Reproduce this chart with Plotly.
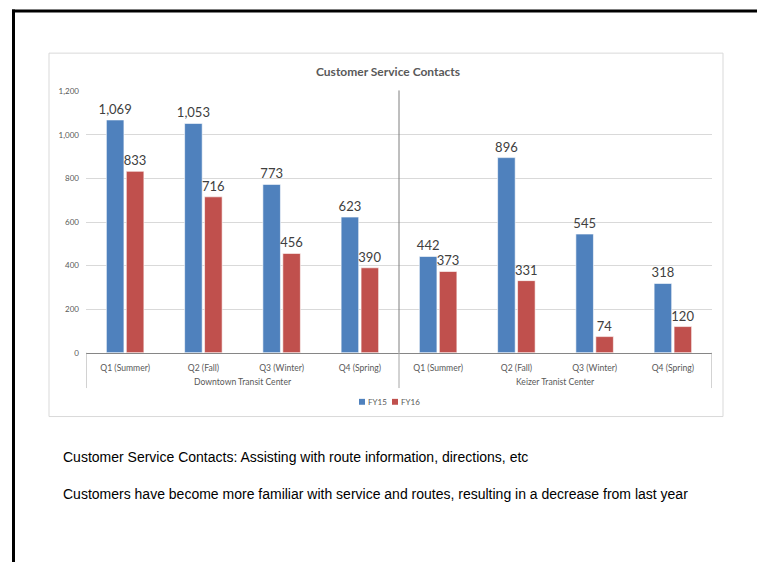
import plotly.graph_objects as go

# Customer service contacts by transit center and quarter
centers = ["Downtown Transit Center", "Keizer Tranist Center"]
quarters = ["Q1 (Summer)", "Q2 (Fall)", "Q3 (Winter)", "Q4 (Spring)"]
fy15 = [1069, 1053, 773, 623, 442, 896, 545, 318]
fy16 = [833, 716, 456, 390, 373, 331, 74, 120]
series = [("FY15", fy15, "#4F81BD"), ("FY16", fy16, "#C0504D")]

notes = [
    "Customer Service Contacts: Assisting with route information, directions, etc",
    "Customers have become more familiar with service and routes, resulting in a decrease from last year",
]

W, H = 757, 562
LABEL_FONT = "Lato, Carlito, Calibri, sans-serif"
TICK_FONT = dict(family=LABEL_FONT, size=8, color="#595959")
CAT_FONT = dict(family=LABEL_FONT, size=8.6, color="#595959")


def px_x(v):
    return v / W


def px_y(v):
    return (H - v) / H


x_dom = [px_x(86), px_x(712)]
y_dom = [px_y(354), px_y(88)]

n_q = len(quarters)
slots = list(range(n_q * len(centers)))
slot_labels = quarters * len(centers)

fig = go.Figure()
for name, vals, color in series:
    fig.add_trace(go.Bar(
        name=name,
        x=slots,
        y=vals,
        marker=dict(color=color, line=dict(color="white", width=0.6)),
        text=[f"{v:,}" for v in vals],
        textposition="outside",
        constraintext="none",
        textfont=dict(family=LABEL_FONT, size=13, color="#404040"),
        cliponaxis=False,
        showlegend=False,
    ))

shapes = [
    # chart frame
    dict(type="rect", xref="paper", yref="paper",
         x0=px_x(49), x1=px_x(723), y0=px_y(419), y1=px_y(49),
         line=dict(color="#d9d9d9", width=1), layer="below"),
    # slide border
    dict(type="line", xref="paper", yref="paper",
         x0=px_x(12), x1=1.01, y0=px_y(6), y1=px_y(6),
         line=dict(color="black", width=3)),
    dict(type="line", xref="paper", yref="paper",
         x0=px_x(13.5), x1=px_x(13.5), y0=-0.01, y1=px_y(4.5),
         line=dict(color="black", width=3)),
]

# group dividers below the axis, the middle one running up through the plot
for k in range(len(centers) + 1):
    xb = k * n_q - 0.5
    inner = 0 < k < len(centers)
    shapes.append(dict(type="line", xref="x", yref="paper",
                       x0=xb, x1=xb, y0=px_y(390), y1=px_y(354),
                       line=dict(color="#a6a6a6", width=1)))
    if inner:
        shapes.append(dict(type="line", xref="x", yref="paper",
                           x0=xb, x1=xb, y0=px_y(354), y1=px_y(87),
                           line=dict(color="#7f7f7f", width=1)))

annotations = [
    dict(text="<b>Customer Service Contacts</b>", xref="paper", yref="paper",
         x=px_x(388), y=px_y(68), showarrow=False, xanchor="center", yanchor="middle",
         font=dict(family=LABEL_FONT, size=12, color="#595959")),
]

# center names under their quarters
for k, c in enumerate(centers):
    annotations.append(dict(text=c, xref="x", yref="paper",
                            x=k * n_q + (n_q - 1) / 2, y=px_y(384), showarrow=False,
                            xanchor="center", yanchor="middle", font=CAT_FONT))

# legend: small colour squares followed by series names
legend_x = [359, 392]
for (name, _, color), lx in zip(series, legend_x):
    shapes.append(dict(type="rect", xref="paper", yref="paper",
                       x0=px_x(lx), x1=px_x(lx + 6), y0=px_y(407), y1=px_y(401),
                       line=dict(width=0), fillcolor=color))
    annotations.append(dict(text=name, xref="paper", yref="paper",
                            x=px_x(lx + 7), y=px_y(404), showarrow=False,
                            xanchor="left", yanchor="middle", font=TICK_FONT))

for i, line in enumerate(notes):
    annotations.append(dict(
        text=line, xref="paper", yref="paper",
        x=px_x(61), y=px_y(460 + 38 * i), showarrow=False,
        xanchor="left", yanchor="middle",
        font=dict(family="Liberation Sans Narrow, Arial Narrow, Liberation Sans, sans-serif",
                  size=14, color="black"),
    ))

fig.update_layout(
    width=W, height=H,
    margin=dict(l=0, r=0, t=0, b=0),
    paper_bgcolor="white", plot_bgcolor="white",
    barmode="group", bargap=0.49, bargroupgap=0.12,
    showlegend=False,
    xaxis=dict(domain=x_dom, range=[-0.5, len(slots) - 0.5],
               tickmode="array", tickvals=slots, ticktext=slot_labels,
               showline=True, linecolor="#868686", linewidth=1,
               showgrid=False, zeroline=False, ticks="", ticklabelstandoff=7,
               tickfont=CAT_FONT),
    yaxis=dict(domain=y_dom, range=[0, 1200], dtick=200, tickformat=",",
               showline=False, zeroline=False, showgrid=True, gridcolor="#d9d9d9",
               ticks="", ticklabelstandoff=6, tickfont=TICK_FONT),
    shapes=shapes,
    annotations=annotations,
)

fig.write_html("out.html")
